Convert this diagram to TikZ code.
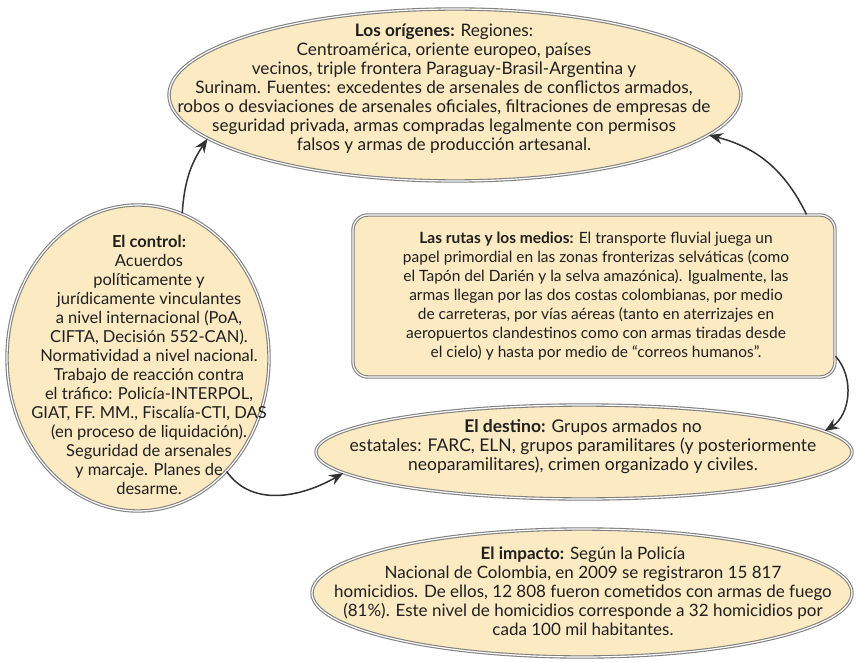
\documentclass[tikz,border=0pt]{standalone}
\usepackage{fontspec}
\setmainfont{Lato}
\usetikzlibrary{shapes.geometric,arrows.meta}
\definecolor{crema}{RGB}{252,234,194}
\definecolor{borde}{RGB}{128,128,128}
\definecolor{tinta}{RGB}{50,50,50}

\begin{document}
\begin{tikzpicture}[x=1pt,y=-1pt,
  burbuja/.style={ellipse,draw=borde,double=white,double distance=1.2pt,line width=1.1pt,fill=crema,inner sep=0pt},
  caja/.style={rectangle,rounded corners=15pt,draw=borde,double=white,double distance=1.2pt,line width=1.1pt,fill=crema,inner sep=0pt},
  texto/.style={align=center,inner sep=0pt,text=black!88,font=\fontsize{#1}{19}\selectfont},
  texto/.default=15.5,
  flecha/.style={draw=tinta,line width=1.5pt,-{Stealth[length=14pt,width=11pt]}}]
\useasboundingbox (0,0) rectangle (856,663);

\node[burbuja,minimum width=572pt,minimum height=172pt](origenes) at (455,95){};
\node[texto=17.2](torigenes) at (444,89){\textbf{Los orígenes:} Regiones:\\
Centroamérica, oriente europeo, países\\
vecinos, triple frontera Paraguay-Brasil-Argentina y\\
Surinam. Fuentes: excedentes de arsenales de conflictos armados,\\
robos o desviaciones de arsenales oficiales, filtraciones de empresas de\\
seguridad privada, armas compradas legalmente con permisos\\
falsos y armas de producción artesanal.};

\node[burbuja,minimum width=262pt,minimum height=306pt](control) at (138,358){};
\node[texto=16.5](tcontrol) at (149,365){\textbf{El control:}\\
Acuerdos\\
políticamente y\\
jurídicamente vinculantes\\
a nivel internacional (PoA,\\
CIFTA, Decisión 552-CAN).\\
Normatividad a nivel nacional.\\
Trabajo de reacción contra\\
el tráfico: Policía-INTERPOL,\\
GIAT, FF. MM., Fiscalía-CTI, DAS\\
(en proceso de liquidación).\\
Seguridad de arsenales\\
y marcaje. Planes de\\
desarme.};

\node[caja,minimum width=482pt,minimum height=162pt](rutas) at (594,296){};
\node[texto](trutas) at (596,296){\textbf{Las rutas y los medios:} El transporte fluvial juega un\\
papel primordial en las zonas fronterizas selváticas (como\\
el Tapón del Darién y la selva amazónica). Igualmente, las\\
armas llegan por las dos costas colombianas, por medio\\
de carreteras, por vías aéreas (tanto en aterrizajes en\\
aeropuertos clandestinos como con armas tiradas desde\\
el cielo) y hasta por medio de “correos humanos”.};

\node[burbuja,minimum width=536pt,minimum height=94pt](destino) at (584,452){};
\node[texto=17.5](tdestino) at (583,447){\textbf{El destino:} Grupos armados no\\
estatales: FARC, ELN, grupos paramilitares (y posteriormente\\
neoparamilitares), crimen organizado y civiles.};

\node[burbuja,minimum width=540pt,minimum height=128pt](impacto) at (582,593){};
\node[texto=17](timpacto) at (583,591){\textbf{El impacto:} Según la Policía\\
Nacional de Colombia, en 2009 se registraron 15 817\\
homicidios. De ellos, 12 808 fueron cometidos con armas de fuego\\
(81\%). Este nivel de homicidios corresponde a 32 homicidios por\\
cada 100 mil habitantes.};

\draw[flecha] (control.73) to[bend left=15] (origenes.190);
\draw[flecha] (rutas.21) to[bend right=25] (origenes.351);
\draw[flecha] (rutas.346) to[bend left=50] (destino.5);
\draw[flecha] (control.308) to[out=-55,in=210] (destino.185);

\end{tikzpicture}
\end{document}
